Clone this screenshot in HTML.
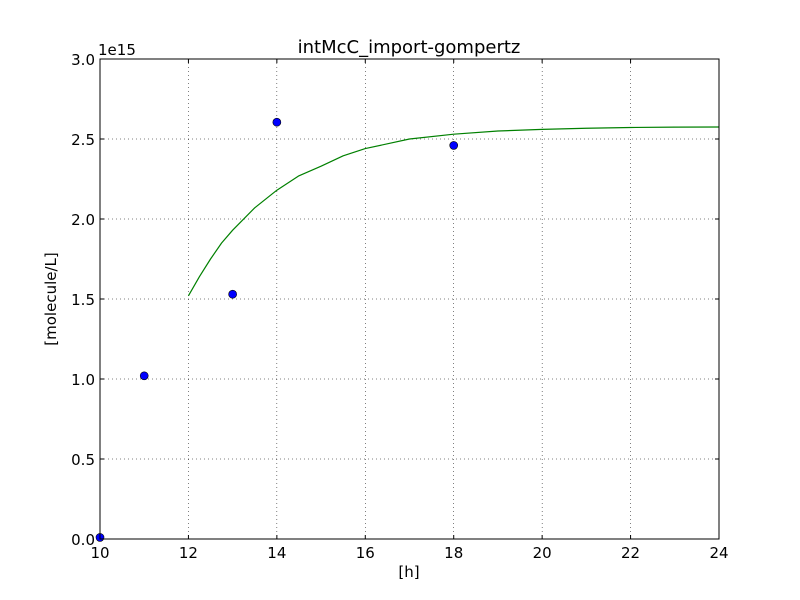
<!DOCTYPE html>
<html><head><meta charset="utf-8"><style>
body{margin:0;background:#fff;}
svg{display:block;font-family:"DejaVu Sans","Liberation Sans",sans-serif;}
</style></head><body>
<svg id="chart" width="800" height="600">
<rect x="0" y="0" width="800" height="600" fill="#fff"/>
</svg>
<script>
const obsX=[10,11,13,14,18];
const obsY=[0.01,1.02,1.53,2.605,2.46];
const fitX=[12,12.25,12.5,12.75,13,13.5,14,14.5,15,15.5,16,17,18,19,20,21,22,23,24];
const fitY=[1.52,1.64,1.75,1.85,1.93,2.07,2.18,2.27,2.33,2.395,2.44,2.50,2.53,2.55,2.56,2.567,2.572,2.574,2.575];
const xTicks=[10,12,14,16,18,20,22,24];
const yTicks=[0,0.5,1.0,1.5,2.0,2.5,3.0];
const L=100,R=719,T=59,B=539;
const xs=v=>L+(v-10)/(24-10)*(R-L);
const ys=v=>B-(v/3)*(B-T);
const svg=document.getElementById('chart');
const NS='http://www.w3.org/2000/svg';
function mk(tag,attrs,parent){const e=document.createElementNS(NS,tag);for(const k in attrs)e.setAttribute(k,attrs[k]);(parent||svg).appendChild(e);return e;}
xTicks.forEach(t=>{const x=xs(t);
 const g=mk('line',{x1:x,x2:x,y1:T,y2:B,stroke:'#000','stroke-width':0.5,'stroke-dasharray':'1,3'});
 
 
 mk('line',{x1:x,x2:x,y1:B,y2:B-4,stroke:'#000'});mk('line',{x1:x,x2:x,y1:T,y2:T+4,stroke:'#000'});
 const tx=mk('text',{x:x,y:B+19,'text-anchor':'middle','font-size':15});tx.textContent=t;
 
 
});
yTicks.forEach(t=>{const y=ys(t);
 const g=mk('line',{x1:L,x2:R,y1:y,y2:y,stroke:'#000','stroke-width':0.5,'stroke-dasharray':'1,3'});
 
 
 mk('line',{x1:L,x2:L+4,y1:y,y2:y,stroke:'#000'});mk('line',{x1:R,x2:R-4,y1:y,y2:y,stroke:'#000'});
 const tx=mk('text',{x:L-5,y:y+6,'text-anchor':'end','font-size':15});tx.textContent=t.toFixed(1);
 
 
});
const p=mk('polyline',{points:fitX.map((x,i)=>xs(x)+','+ys(fitY[i])).join(' '),fill:'none',stroke:'#008000','stroke-width':1.2,'stroke-linejoin':'round'});


obsX.forEach((x,i)=>{const c=mk('circle',{cx:xs(x),cy:ys(obsY[i]),r:4,fill:'#0000ff',stroke:'#000','stroke-width':0.6});
 
 
});
const fr=mk('rect',{x:L,y:T,width:R-L,height:B-T,fill:'none',stroke:'#000','stroke-width':1});


</script>
<svg style="position:absolute;left:0;top:0" width="800" height="600">
<text x="409" y="53" text-anchor="middle" font-size="18">intMcC_import-gompertz</text>
<text x="98" y="55" font-size="15">1e15</text>
<text x="409" y="577" text-anchor="middle" font-size="15">[h]</text>
<text transform="translate(56,299) rotate(-90)" text-anchor="middle" font-size="15">[molecule/L]</text>
</svg>
</body></html>
